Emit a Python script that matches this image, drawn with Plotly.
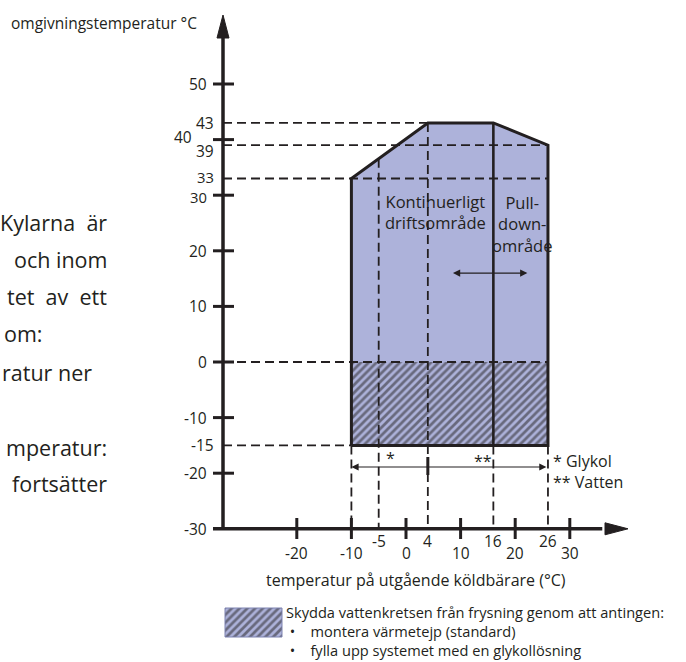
import plotly.graph_objects as go

# ---------------- data ----------------
envelope_x = [-10, -10, 4, 16, 26, 26]
envelope_y = [-15, 33, 43, 43, 39, -15]
pulldown_split_x = 16
freeze_x = [-10, 26]
freeze_y = [-15, 0]

x_major_ticks = [-20, -10, 0, 10, 20, 30]
x_marked_values = [-5, 4, 16, 26]
y_major_ticks = [50, 40, 30, 20, 10, 0, -10, -20]
y_marked_values = [43, 39, 33, -15]

dashed_h_y = [43, 39, 33, 0, -15]
dashed_h_end_x = [4, 26, 26, 26, -10]
dashed_v_x = [-10, -5, 4, 16, 26]

glycol_span = [-10, 4]
water_span = [4, 26]
pulldown_arrow_x = [8.6, 22.5]
pulldown_arrow_y = 16

legend_lines = ["Skydda vattenkretsen från frysning genom att antingen:",
                "montera värmetejp (standard)",
                "fylla upp systemet med en glykollösning"]

# ---------------- layout constants ----------------
W, H = 686, 662
X0_PX, SX = 406.0, 5.46   # pixel of x=0, px per unit
Y0_PX, SY = 362.0, 5.56   # pixel of y=0, px per unit


def px2x(p):
    return (p - X0_PX) / SX


def px2y(p):
    return (Y0_PX - p) / SY


INK = "#231f20"
FILL = "#adb2da"
FONT = "Open Sans"
AX_X = px2x(223)        # position of the vertical axis
AX_Y = -30              # position of the horizontal axis
DASH = "9px,5px"
PATTERN = dict(shape="/", fgcolor=INK, bgcolor=FILL, size=5.5, solidity=0.5)

fig = go.Figure()

# envelope fill
fig.add_trace(go.Scatter(x=envelope_x + [envelope_x[0]], y=envelope_y + [envelope_y[0]],
                         mode="lines", fill="toself", fillcolor=FILL,
                         line=dict(width=0), hoverinfo="skip"))
# hatched freeze-protection zone
hx = [freeze_x[0], freeze_x[0], freeze_x[1], freeze_x[1], freeze_x[0]]
hy = [freeze_y[0], freeze_y[1], freeze_y[1], freeze_y[0], freeze_y[0]]
fig.add_trace(go.Scatter(x=hx, y=hy, mode="lines", fill="toself", fillcolor=FILL,
                         fillpattern=PATTERN, line=dict(width=0), hoverinfo="skip"))
# envelope outline
fig.add_trace(go.Scatter(x=envelope_x + [envelope_x[0]], y=envelope_y + [envelope_y[0]],
                         mode="lines", line=dict(color=INK, width=3), hoverinfo="skip"))

# legend swatch (position in pixels)
lx0, lx1, ly0, ly1 = px2x(225), px2x(282), px2y(637), px2y(608)
fig.add_trace(go.Scatter(x=[lx0, lx0, lx1, lx1, lx0], y=[ly0, ly1, ly1, ly0, ly0],
                         mode="lines", fill="toself", fillcolor=FILL,
                         fillpattern=PATTERN,
                         line=dict(color="#7c82b0", width=1), hoverinfo="skip"))

shapes = []
# dashed horizontal guide lines
for yv, xe in zip(dashed_h_y, dashed_h_end_x):
    shapes.append(dict(type="line", x0=AX_X, x1=xe, y0=yv, y1=yv,
                       line=dict(color=INK, width=1.8, dash=DASH)))


def top_of_envelope(xv):
    ys = []
    for i in range(1, len(envelope_x) - 1):
        xa, xb = envelope_x[i], envelope_x[i + 1]
        ya, yb = envelope_y[i], envelope_y[i + 1]
        if xa != xb and min(xa, xb) <= xv <= max(xa, xb):
            ys.append(ya + (yb - ya) * (xv - xa) / (xb - xa))
    return max(ys)


for xv in dashed_v_x:
    if xv in (envelope_x[0], envelope_x[-1], pulldown_split_x):
        top = min(envelope_y)
    else:
        top = top_of_envelope(xv)
    shapes.append(dict(type="line", x0=xv, x1=xv, y0=top, y1=AX_Y,
                       line=dict(color=INK, width=1.8, dash=DASH)))

# pull-down divider
shapes.append(dict(type="line", x0=pulldown_split_x, x1=pulldown_split_x,
                   y0=min(envelope_y), y1=max(envelope_y), line=dict(color=INK, width=2.6)))

# axes
arrow_y_tip, arrow_y_base = px2y(15), px2y(38)
arrow_x_tip, arrow_x_base = px2x(628), px2x(605)
hw_x, hw_y = 6 / SX, 6 / SY
shapes.append(dict(type="line", x0=AX_X, x1=AX_X, y0=px2y(530), y1=arrow_y_base + 0.5,
                   line=dict(color=INK, width=3.5)))
shapes.append(dict(type="line", x0=px2x(213), x1=arrow_x_base - 0.5, y0=AX_Y, y1=AX_Y,
                   line=dict(color=INK, width=3.5)))
shapes.append(dict(type="path",
                   path=f"M {AX_X - hw_x},{arrow_y_base} L {AX_X},{arrow_y_tip} L {AX_X + hw_x},{arrow_y_base} Z",
                   fillcolor=INK, line=dict(color=INK, width=1)))
shapes.append(dict(type="path",
                   path=f"M {arrow_x_base},{AX_Y + hw_y} L {arrow_x_tip},{AX_Y} L {arrow_x_base},{AX_Y - hw_y} Z",
                   fillcolor=INK, line=dict(color=INK, width=1)))
# ticks
for yv in y_major_ticks:
    shapes.append(dict(type="line", x0=px2x(213), x1=px2x(234), y0=yv, y1=yv,
                       line=dict(color=INK, width=3)))
for xv in x_major_ticks:
    shapes.append(dict(type="line", x0=xv, x1=xv, y0=px2y(518), y1=px2y(539),
                       line=dict(color=INK, width=3)))
# glycol / water split tick
arrow_row_y = px2y(467)
shapes.append(dict(type="line", x0=glycol_span[1], x1=glycol_span[1],
                   y0=px2y(457), y1=px2y(475), line=dict(color=INK, width=3)))

annotations = []


def txt(x, y, s, size=16, xanchor="center", yanchor="middle", **kw):
    annotations.append(dict(x=x, y=y, text=s, showarrow=False, xanchor=xanchor,
                            yanchor=yanchor, font=dict(family=FONT, size=size, color=INK),
                            borderpad=0, **kw))


TICK_FS = 15.5
# y labels
for yv in y_major_ticks:
    if yv == 40:
        txt(px2x(193), yv, str(yv), size=TICK_FS, xanchor="right", yshift=3)
        continue
    if yv == 30:
        txt(px2x(208), yv, str(yv), size=14.8, xanchor="right", yshift=-1.5)
        continue
    txt(px2x(208), yv, str(yv), size=TICK_FS, xanchor="right")
txt(px2x(208), AX_Y, "-30", size=TICK_FS, xanchor="right")
for yv in y_marked_values:
    if yv == 39:
        txt(px2x(215), yv, str(yv), size=TICK_FS, xanchor="right", yshift=-6)
    elif yv == 33:
        txt(px2x(215), yv, str(yv), size=14.8, xanchor="right", yshift=1.5)
    else:
        txt(px2x(215), yv, str(yv), size=TICK_FS, xanchor="right")

# x labels
for xv in x_major_ticks:
    txt(xv, px2y(553), str(xv), size=TICK_FS)
for xv in x_marked_values:
    txt(xv, px2y(541), str(xv), size=TICK_FS)

# axis titles
txt(px2x(10), px2y(23), "omgivningstemperatur °C", size=15.5, xanchor="left")
txt(px2x(416), px2y(580), "temperatur på utgående köldbärare (°C)", size=16)

# region texts
txt(px2x(435), px2y(212), "Kontinuerligt<br>driftsområde", size=16.5)
txt(px2x(522), px2y(224), "Pull-<br>down-<br>område", size=16.5)

# glycol / water arrow
annotations.append(dict(x=glycol_span[0], y=arrow_row_y, ax=water_span[1], ay=arrow_row_y,
                        xref="x", yref="y", axref="x", ayref="y", text="", showarrow=True,
                        arrowhead=2, arrowside="end+start", arrowsize=1.2, arrowwidth=1.2,
                        arrowcolor=INK, standoff=0, startstandoff=0))
txt((glycol_span[0] + glycol_span[1]) / 2 + 0.2, px2y(458), "*", size=16)
txt((water_span[0] + water_span[1]) / 2 - 0.9, px2y(461), "**", size=16)
txt(px2x(552), px2y(471), "* Glykol<br>** Vatten", size=16, xanchor="left", align="left")

# pull-down arrow
annotations.append(dict(x=pulldown_arrow_x[0], y=pulldown_arrow_y, ax=pulldown_arrow_x[1],
                        ay=pulldown_arrow_y, xref="x", yref="y", axref="x", ayref="y",
                        text="", showarrow=True, arrowhead=2, arrowside="end+start",
                        arrowsize=1.2, arrowwidth=1.2, arrowcolor=INK, standoff=0,
                        startstandoff=0))

# legend text (one block)
LEG_FS = 14.6
bullet = "\u00a0•\u00a0\u00a0\u00a0\u00a0"
legend_text = "<br>".join([legend_lines[0]] + [bullet + s for s in legend_lines[1:]])
txt(px2x(285), px2y(631), legend_text, size=LEG_FS, xanchor="left", align="left")

# cropped paragraph on the left
para = [("Kylarna\u00a0 är", 222, 108), ("och inom", 259, 108), ("tet\u00a0 av\u00a0 ett", 296, 108),
        ("om:", 333, 44), ("ratur ner", 372, 93), ("mperatur:", 447, 108),
        ("fortsätter", 483, 108)]
for s, ypx, xr in para:
    txt(px2x(xr), px2y(ypx), s, size=21.5, xanchor="right")

fig.update_layout(
    width=W, height=H, margin=dict(l=0, r=0, t=0, b=0),
    paper_bgcolor="white", plot_bgcolor="white", showlegend=False,
    xaxis=dict(range=[px2x(0), px2x(W)], visible=False, fixedrange=True),
    yaxis=dict(range=[px2y(H), px2y(0)], visible=False, fixedrange=True),
    shapes=shapes, annotations=annotations,
)

fig.write_html("out.html", config={"displayModeBar": False},
               post_script="document.body.style.margin='0';")
